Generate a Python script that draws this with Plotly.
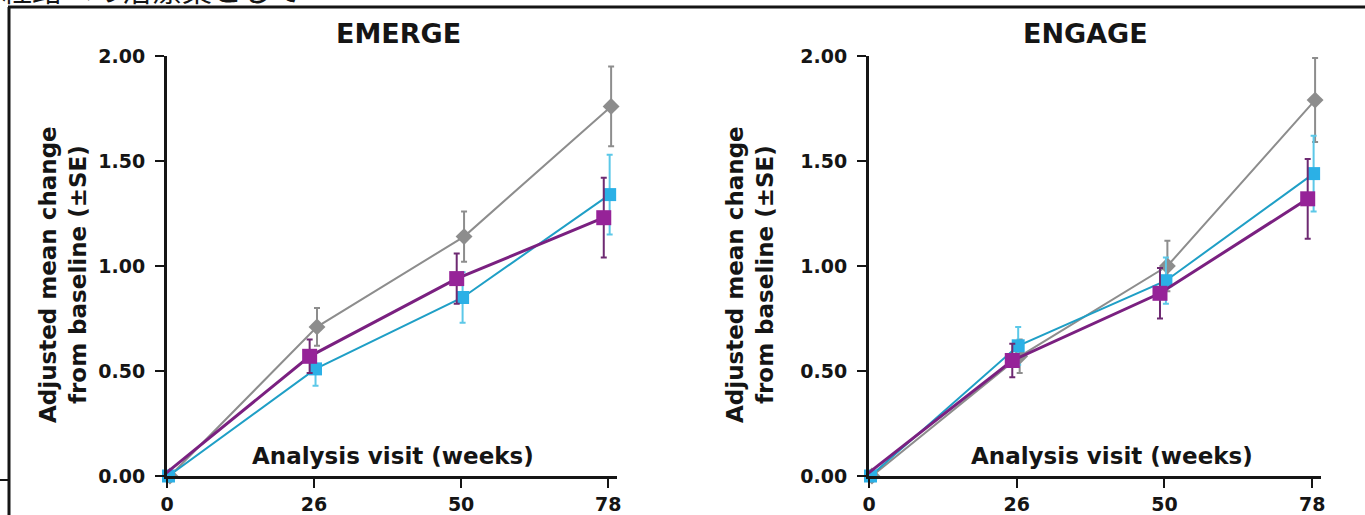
import plotly.graph_objects as go

# ---------------- data ----------------
weeks = ["0", "26", "50", "78"]

emerge_placebo = [0.00, 0.71, 1.14, 1.76]
emerge_placebo_se = [0.00, 0.09, 0.12, 0.19]
emerge_low = [0.00, 0.51, 0.85, 1.34]
emerge_low_se = [0.00, 0.08, 0.12, 0.19]
emerge_high = [0.00, 0.57, 0.94, 1.23]
emerge_high_se = [0.00, 0.08, 0.12, 0.19]

engage_placebo = [0.00, 0.57, 1.00, 1.79]
engage_placebo_se = [0.00, 0.08, 0.12, 0.20]
engage_low = [0.00, 0.62, 0.93, 1.44]
engage_low_se = [0.00, 0.09, 0.11, 0.18]
engage_high = [0.00, 0.55, 0.87, 1.32]
engage_high_se = [0.00, 0.08, 0.12, 0.19]

panel_titles = ["EMERGE", "ENGAGE"]
y_ticks = [0, 0.5, 1.0, 1.5, 2.0]
y_tick_labels = ["0.00", "0.50", "1.00", "1.50", "2.00"]

# ---------------- styling ----------------
W, H = 1365, 515
FONT = "DejaVu Sans, Arial, sans-serif"
INK = "#151515"
GRAY, GRAY_BAR = "#8d8d8d", "#8d8d8d"
CYAN_LINE, CYAN_MK, CYAN_BAR = "#1f9fc6", "#2bb0e6", "#5cc8e8"
PURP_LINE, PURP_MK, PURP_BAR = "#7a2080", "#962398", "#6e2a72"


def px_x(p):
    return p / W


def px_y(p):
    return (H - p) / H


series_style = [
    # (key, x offset, line color, width, marker symbol, marker color, size, bar color)
    ("placebo", 0.02, GRAY, 2, "diamond", GRAY, 13, GRAY_BAR),
    ("low", 0.01, CYAN_LINE, 2, "square", CYAN_MK, 13, CYAN_BAR),
    ("high", -0.03, PURP_LINE, 3, "square", PURP_MK, 15, PURP_BAR),
]

panels = [
    ({"placebo": (emerge_placebo, emerge_placebo_se),
      "low": (emerge_low, emerge_low_se),
      "high": (emerge_high, emerge_high_se)}, "x", "y"),
    ({"placebo": (engage_placebo, engage_placebo_se),
      "low": (engage_low, engage_low_se),
      "high": (engage_high, engage_high_se)}, "x2", "y2"),
]

fig = go.Figure()
idx = list(range(len(weeks)))
for data, xa, ya in panels:
    for name, off, lc, lw, sym, mc, ms, bc in series_style:
        vals, se = data[name]
        fig.add_trace(go.Scatter(
            x=[i + off for i in idx], y=vals, xaxis=xa, yaxis=ya,
            mode="lines+markers", name=name, showlegend=False,
            line=dict(color=lc, width=lw),
            marker=dict(symbol=sym, color=mc, size=ms, line=dict(width=0)),
            error_y=dict(type="data", array=se, visible=True,
                         color=bc, thickness=2, width=3),
            cliponaxis=False,
        ))

# axes geometry (pixels)
y_top, y_bot = 56, 476
x_spans = [(167, 617), (869, 1321)]

axis_common = dict(showgrid=False, zeroline=False, showline=True, automargin=False,
                   linecolor=INK, linewidth=3, ticks="outside",
                   ticklen=9, tickwidth=2, tickcolor=INK,
                   tickfont=dict(family=FONT, size=19, color=INK, weight="bold"))

layout = dict(width=W, height=H,
              margin=dict(l=0, r=0, t=0, b=0, pad=0, autoexpand=False),
              paper_bgcolor="white", plot_bgcolor="rgba(0,0,0,0)")

for k, (x0, x1) in enumerate(x_spans):
    sfx = "" if k == 0 else str(k + 1)
    layout["xaxis" + sfx] = dict(
        axis_common, domain=[px_x(x0), px_x(x1)], range=[0, 3.06],
        tickmode="array", tickvals=idx, ticktext=weeks,
        anchor="y" + sfx)
    layout["yaxis" + sfx] = dict(
        axis_common, domain=[px_y(y_bot), px_y(y_top)], range=[0, 2.0],
        tickmode="array", tickvals=y_ticks, ticktext=y_tick_labels,
        ticklabelstandoff=6, anchor="x" + sfx)

fig.update_layout(**layout)

annotations = []
title_x = [398, 1085]
ytitle_x = [63, 750]
xlabel_x = [393, 1112]
for k in range(2):
    annotations.append(dict(text=panel_titles[k], x=px_x(title_x[k]), y=px_y(34),
                            xref="paper", yref="paper", showarrow=False,
                            xanchor="center", yanchor="middle",
                            font=dict(family=FONT, size=27, color=INK, weight="bold")))
    annotations.append(dict(text="Adjusted mean change<br>from baseline (±SE)",
                            x=px_x(ytitle_x[k]), y=px_y(275), xref="paper", yref="paper",
                            showarrow=False, textangle=-90,
                            xanchor="center", yanchor="middle",
                            font=dict(family=FONT, size=23, color=INK, weight="bold")))
    annotations.append(dict(text="Analysis visit (weeks)", x=px_x(xlabel_x[k]), y=px_y(456),
                            xref="paper", yref="paper", showarrow=False,
                            xanchor="center", yanchor="middle",
                            font=dict(family=FONT, size=23, color=INK, weight="bold")))

# cropped Japanese fragment from the source slide (top-left, mostly cut off, as in the source)
annotations.append(dict(text="経路への治療薬として", x=0, y=px_y(12), xref="paper", yref="paper",
                        xanchor="left", yanchor="bottom", showarrow=False,
                        font=dict(family="Noto Sans CJK JP", size=30, color=INK)))
fig.update_layout(annotations=annotations)

# frame lines of the cropped slide
fig.add_shape(type="line", xref="paper", yref="paper", x0=px_x(8), x1=1, y0=px_y(7), y1=px_y(7),
              line=dict(color=INK, width=3))
fig.add_shape(type="line", xref="paper", yref="paper", x0=px_x(9), x1=px_x(9), y0=px_y(7), y1=0,
              line=dict(color=INK, width=3))
fig.add_shape(type="line", xref="paper", yref="paper", x0=0, x1=px_x(9), y0=px_y(480), y1=px_y(480),
              line=dict(color=INK, width=2))

fig.write_html("out.html", config={"displayModeBar": False},
               post_script="document.body.style.margin='0';document.body.style.overflow='hidden';")
